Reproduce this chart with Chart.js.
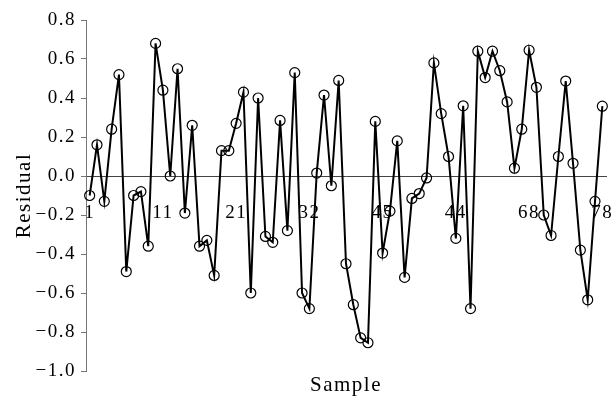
<!DOCTYPE html>
<html>
<head>
<meta charset="utf-8">
<script src="https://cdn.jsdelivr.net/npm/chart.js@4/dist/chart.umd.min.js"></script>
<style>
    html, body { margin: 0; padding: 0; background: #fff; }
    #wrap { width: 613px; height: 396px; }
</style>
</head>
<body>
<div id="wrap"><canvas id="residualChart"></canvas></div>
<script>
// residual of each sample (71 samples)
const residuals = [
    -0.10, 0.16, -0.13, 0.24, 0.52, -0.49, -0.10, -0.08, -0.36, 0.68,
    0.44, 0.00, 0.55, -0.19, 0.26, -0.36, -0.33, -0.51, 0.13, 0.13,
    0.27, 0.43, -0.60, 0.40, -0.31, -0.34, 0.285, -0.28, 0.53, -0.60,
    -0.68, 0.015, 0.415, -0.05, 0.49, -0.45, -0.66, -0.83, -0.855, 0.28,
    -0.395, -0.18, 0.18, -0.52, -0.115, -0.09, -0.01, 0.58, 0.32, 0.10,
    -0.32, 0.36, -0.68, 0.64, 0.505, 0.64, 0.54, 0.38, 0.04, 0.24,
    0.645, 0.455, -0.20, -0.305, 0.10, 0.487, 0.065, -0.38, -0.635, -0.13,
    0.358
];
const samples = residuals.map((r, i) => String(i + 1));

// the x labels printed in the figure and the sample they sit under
const tickAt = [0, 10, 20, 30, 40, 50, 60, 70];
const tickText = ['1', '11', '21', '32', '45', '44', '68', '78'];

const yMin = -1.0;
const yMax = 0.8;
const yStep = 0.2;

const serif = 'Liberation Serif, Times New Roman, serif';

// canvas state gets reset on resize, so put the spacing back before each pass
const spacing = {
    id: 'spacing',
    beforeLayout(chart) { chart.ctx.letterSpacing = '1.5px'; },
    beforeDraw(chart) { chart.ctx.letterSpacing = '1.5px'; }
};

new Chart('residualChart', {
    type: 'line',
    data: {
        labels: samples,
        datasets: [{
            label: 'Residual',
            data: residuals,
            borderColor: '#000',
            borderWidth: 2,
            tension: 0,
            pointRadius: 5,
            pointHoverRadius: 5,
            pointBorderWidth: 1.2,
            pointBorderColor: '#000',
            pointBackgroundColor: 'rgba(0,0,0,0)'
        }]
    },
    options: {
        responsive: true,
        maintainAspectRatio: false,
        animation: false,
        events: [],
        layout: { padding: { top: 20, right: 7, bottom: 0, left: 0 } },
        plugins: {
            legend: { display: false },
            tooltip: { enabled: false },
            title: {
                display: true,
                text: 'Sample',
                position: 'bottom',
                fullSize: false,
                color: '#000',
                font: { family: serif, size: 21, weight: 'normal', lineHeight: 1 },
                padding: { top: 4, bottom: 0 }
            }
        },
        scales: {
            x: {
                type: 'category',
                position: { y: 0 },
                offset: true,
                // the labels sit well below the zero line; keep that gap out of the side padding
                afterFit: function (scale) {
                    scale.paddingLeft = 0;
                    scale.paddingRight = 0;
                },
                grid: { display: false, drawTicks: false },
                border: { display: true, color: '#444', width: 1 },
                ticks: {
                    autoSkip: false,
                    maxRotation: 0,
                    padding: 26,
                    color: '#000',
                    font: { family: serif, size: 19 },
                    callback: function (value, index) {
                        const k = tickAt.indexOf(index);
                        return k >= 0 ? tickText[k] : '';
                    }
                }
            },
            y: {
                min: yMin,
                max: yMax,
                afterFit: function (scale) { scale.width = 86; },
                grid: { drawOnChartArea: false, drawTicks: true, tickLength: 5, color: '#777' },
                border: { display: true, color: '#777', width: 1 },
                title: {
                    display: true,
                    text: 'Residual',
                    color: '#000',
                    font: { family: serif, size: 21 },
                    padding: { top: 12, bottom: 0 }
                },
                ticks: {
                    stepSize: yStep,
                    padding: 5,
                    color: '#000',
                    font: { family: serif, size: 19 },
                    callback: function (value) {
                        return value.toFixed(1).replace('-', '\u2212');
                    }
                }
            }
        }
    },
    plugins: [spacing]
});
</script>
</body>
</html>
